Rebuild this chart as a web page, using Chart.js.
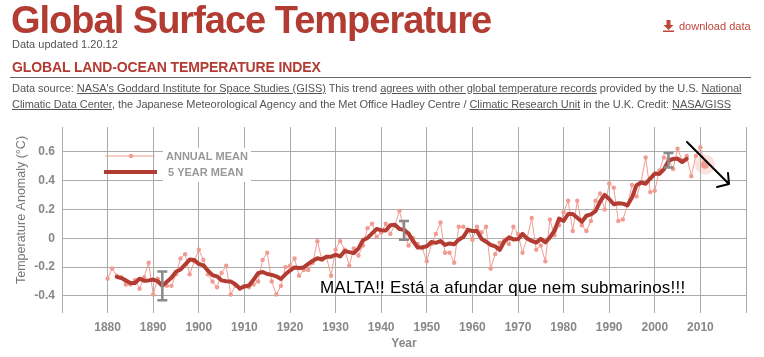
<!DOCTYPE html>
<html><head><meta charset="utf-8">
<script src="https://cdn.jsdelivr.net/npm/chart.js@4"></script>
<style>
body{margin:0;width:764px;height:357px;overflow:hidden;position:relative;background:#fff;font-family:"Liberation Sans",Arial,sans-serif;}
#c{position:absolute;left:0;top:0;}
.t{position:absolute;white-space:nowrap;}
#h1{left:11px;top:1px;font-size:38px;line-height:38px;font-weight:bold;color:#b23b32;letter-spacing:-1px;}
#upd{left:12px;top:38px;font-size:11px;line-height:13px;color:#555;}
#dl{left:663px;top:20px;font-size:11px;line-height:13px;color:#c0463c;}
#dl svg{vertical-align:-2px;margin-right:5px;}
#h2{left:12px;top:59px;font-size:14px;line-height:16px;font-weight:bold;color:#b23b32;letter-spacing:-0.12px;}
#rule{position:absolute;left:10px;top:77px;width:741px;height:1px;background:#666;}
#src{left:12px;top:80px;font-size:11px;line-height:16px;color:#555;letter-spacing:-0.05px;}
#src u{text-decoration:underline;}
#malta{left:320px;top:279px;font-size:17px;line-height:18px;color:#000;letter-spacing:0.2px;}
</style></head>
<body>
<canvas id="c" width="764" height="357"></canvas>
<div class="t" id="h1">Global Surface Temperature</div>
<div class="t" id="upd">Data updated 1.20.12</div>
<div class="t" id="dl"><svg width="11" height="12" viewBox="0 0 11 12"><path d="M3.5 0h4v5h3l-5 5-5-5h3z" fill="#c0463c"/><rect x="0" y="10.5" width="11" height="1.5" fill="#c0463c"/></svg>download data</div>
<div class="t" id="h2">GLOBAL LAND-OCEAN TEMPERATURE INDEX</div>
<div id="rule"></div>
<div class="t" id="src">Data source: <u>NASA's Goddard Institute for Space Studies (GISS)</u> This trend <u>agrees with other global temperature records</u> provided by the U.S. <u>National</u><br><u>Climatic Data Center</u>, the Japanese Meteorological Agency and the Met Office Hadley Centre / <u>Climatic Research Unit</u> in the U.K. Credit: <u>NASA/GISS</u></div>
<div class="t" id="malta">MALTA!! Está a afundar que nem submarinos!!!</div>
<script>
// ---- data ----
const annualStartYear = 1880;
const annualMean = [
 -0.28,-0.21,-0.26,-0.27,-0.32,-0.32,-0.29,-0.35,-0.27,-0.17,
 -0.39,-0.28,-0.32,-0.33,-0.33,-0.25,-0.14,-0.11,-0.25,-0.16,
 -0.08,-0.15,-0.25,-0.30,-0.34,-0.24,-0.19,-0.39,-0.33,-0.35,
 -0.33,-0.34,-0.32,-0.30,-0.15,-0.10,-0.30,-0.39,-0.33,-0.20,
 -0.19,-0.14,-0.26,-0.22,-0.22,-0.17,-0.02,-0.15,-0.13,-0.26,
 -0.08,-0.02,-0.08,-0.19,-0.07,-0.12,-0.05,0.07,0.10,0.01,
 0.04,0.10,0.03,0.09,0.19,0.06,-0.05,0.00,-0.04,-0.07,
 -0.16,-0.04,0.03,0.11,-0.10,-0.10,-0.17,0.08,0.08,0.06,
 -0.01,0.08,0.04,0.08,-0.21,-0.11,-0.03,-0.01,-0.04,0.08,
 0.03,-0.10,0.00,0.14,-0.08,-0.05,-0.16,0.13,0.02,0.09,
 0.18,0.26,0.05,0.26,0.09,0.05,0.12,0.26,0.31,0.20,
 0.38,0.35,0.12,0.13,0.23,0.37,0.29,0.39,0.56,0.32,
 0.33,0.47,0.56,0.55,0.48,0.62,0.54,0.57,0.43,0.57,
 0.63,0.51];
const fiveYearStartYear = 1882;
const fiveYearMean = [
 -0.268,-0.276,-0.292,-0.310,-0.310,-0.280,-0.294,-0.292,-0.286,-0.298,
 -0.330,-0.302,-0.274,-0.232,-0.216,-0.182,-0.148,-0.150,-0.178,-0.188,
 -0.224,-0.256,-0.264,-0.292,-0.298,-0.300,-0.318,-0.348,-0.334,-0.328,
 -0.288,-0.242,-0.234,-0.248,-0.254,-0.264,-0.282,-0.250,-0.224,-0.202,
 -0.206,-0.202,-0.178,-0.156,-0.138,-0.146,-0.128,-0.128,-0.114,-0.126,
 -0.088,-0.096,-0.102,-0.072,-0.014,0.002,0.034,0.064,0.056,0.054,
 0.090,0.094,0.064,0.058,0.032,-0.020,-0.064,-0.062,-0.056,-0.026,
 -0.032,-0.020,-0.046,-0.036,-0.042,-0.010,0.008,0.058,0.050,0.050,
 -0.004,-0.024,-0.046,-0.056,-0.080,-0.022,0.006,-0.008,-0.006,0.030,
 -0.002,-0.018,-0.030,-0.004,-0.028,0.006,0.052,0.136,0.120,0.168,
 0.168,0.142,0.114,0.156,0.166,0.188,0.254,0.300,0.272,0.236,
 0.242,0.240,0.228,0.282,0.368,0.386,0.378,0.414,0.448,0.446,
 0.478,0.536,0.550,0.552,0.528,0.550];
const errYears = [1892, 1945, 2003];
const errLow  = [-0.43, -0.01, 0.49];
const errHigh = [-0.23, 0.12, 0.59];
const xGridYears = [1870,1880,1890,1900,1910,1920,1930,1940,1950,1960,1970,1980,1990,2000,2010,2020];
const xLabelYears = [1880,1890,1900,1910,1920,1930,1940,1950,1960,1970,1980,1990,2000,2010];
const yTicks = [-0.4,-0.2,0,0.2,0.4,0.6];
const yTickLabels = ['-0.4','-0.2','0','0.2','0.4','0.6'];
const legendLabels = ['ANNUAL MEAN','5 YEAR MEAN'];
const yAxisTitle = 'Temperature Anomaly (°C)';

const annualPts = annualMean.map((v,i)=>({x: annualStartYear+i, y: v}));
const fivePts = fiveYearMean.map((v,i)=>({x: fiveYearStartYear+i, y: v}));

const RED = '#b23b32', PINK = '#f09c92';
const FONT = '"Liberation Sans", Arial, sans-serif';

const annot = {
  id: 'annot',
  beforeDatasetsDraw(chart){
    const ctx = chart.ctx;
    const meta = chart.getDatasetMeta(1);
    const p = meta.data[meta.data.length-1];
    ctx.save();
    ctx.fillStyle = 'rgba(240,150,140,0.28)';
    ctx.beginPath(); ctx.arc(p.x, p.y, 10, 0, Math.PI*2); ctx.fill();
    ctx.restore();
  },
  afterDatasetsDraw(chart){
    const ctx = chart.ctx, xs = chart.scales.x, ys = chart.scales.y, a = chart.chartArea;
    ctx.save();
    // error bars
    ctx.strokeStyle = '#8a8a8a'; ctx.lineWidth = 2.5; ctx.lineCap='butt';
    errYears.forEach((yr,i)=>{
      const px = xs.getPixelForValue(yr), t = ys.getPixelForValue(errHigh[i]), b = ys.getPixelForValue(errLow[i]);
      ctx.beginPath();
      ctx.moveTo(px, t); ctx.lineTo(px, b);
      ctx.moveTo(px-5, t); ctx.lineTo(px+5, t);
      ctx.moveTo(px-5, b); ctx.lineTo(px+5, b);
      ctx.stroke();
    });
    // legend
    const L = a.left, T = a.top;
    ctx.fillStyle = '#fff';
    ctx.fillRect(L+101, T+21, 88, 34);
    ctx.strokeStyle = PINK; ctx.lineWidth = 1;
    ctx.beginPath(); ctx.moveTo(L+43, T+29); ctx.lineTo(L+93, T+29); ctx.stroke();
    ctx.fillStyle = PINK; ctx.beginPath(); ctx.arc(L+69, T+29, 2.2, 0, Math.PI*2); ctx.fill();
    ctx.strokeStyle = RED; ctx.lineWidth = 4;
    ctx.beginPath(); ctx.moveTo(L+42, T+45); ctx.lineTo(L+95, T+45); ctx.stroke();
    ctx.fillStyle = '#999'; ctx.font = 'bold 11px ' + FONT; ctx.textBaseline = 'middle'; ctx.textAlign='left';
    ctx.fillText(legendLabels[0], L+104, T+30);
    ctx.fillText(legendLabels[1], L+106, T+46);
    // y axis title
    ctx.save();
    ctx.translate(22, 210); ctx.rotate(-Math.PI/2);
    ctx.fillStyle = '#777'; ctx.font = '12.5px ' + FONT; ctx.textAlign = 'center'; ctx.textBaseline = 'middle';
    ctx.fillText(yAxisTitle, 0, 0);
    ctx.restore();
    // arrow annotation
    ctx.strokeStyle = '#000'; ctx.lineWidth = 2; ctx.lineCap = 'round'; ctx.lineJoin='round';
    ctx.beginPath();
    ctx.moveTo(687, 142); ctx.lineTo(729, 184);
    ctx.moveTo(728, 173); ctx.lineTo(729, 184); ctx.lineTo(717, 187);
    ctx.stroke();
    ctx.restore();
  }
};

new Chart(document.getElementById('c'), {
  type: 'line',
  data: { datasets: [
    { label: '5 YEAR MEAN', data: fivePts, borderColor: RED, borderWidth: 4, pointRadius: 0, tension: 0, borderJoinStyle:'round', borderCapStyle:'round' },
    { label: 'ANNUAL MEAN', data: annualPts, borderColor: PINK, backgroundColor: PINK, borderWidth: 1, tension: 0,
      pointRadius: (c)=> c.dataIndex === annualPts.length-1 ? 4 : 2.2, pointBorderWidth: 0, pointBackgroundColor: PINK }
  ]},
  options: {
    responsive: false, animation: false, devicePixelRatio: 1,
    layout: { padding: { top: 127, right: 18, left: 0, bottom: 0 } },
    plugins: { legend: { display: false }, tooltip: { enabled: false } },
    scales: {
      x: {
        type: 'linear', min: 1870, max: 2020,
        afterBuildTicks: (s)=>{ s.ticks = xGridYears.map(v=>({value:v})); },
        afterFit: (s)=>{ s.height = 44; },
        grid: { color: '#ababab', lineWidth: 1, drawTicks: false },
        border: { display: false },
        ticks: { autoSkip: false, maxRotation: 0, padding: 7, color: '#888', font: { family: FONT, size: 12, weight: 'bold' },
          callback: (v)=> xLabelYears.includes(v) ? String(v) : '' },
        title: { display: true, text: 'Year', color: '#888', font: { family: FONT, size: 12, weight: 'bold' }, padding: { top: 0, bottom: 6 } }
      },
      y: {
        type: 'linear', min: -0.518, max: 0.771,
        afterBuildTicks: (s)=>{ s.ticks = yTicks.map(v=>({value:v})); },
        afterFit: (s)=>{ s.width = 62; },
        grid: { color: '#ababab', lineWidth: 1, drawTicks: false },
        border: { display: false },
        ticks: { padding: 7, color: '#888', font: { family: FONT, size: 12, weight: 'bold' },
          callback: (v)=> { const i = yTicks.indexOf(v); return i >= 0 ? yTickLabels[i] : ''; } },
        title: { display: false }
      }
    }
  },
  plugins: [annot]
});
</script>
</body></html>
